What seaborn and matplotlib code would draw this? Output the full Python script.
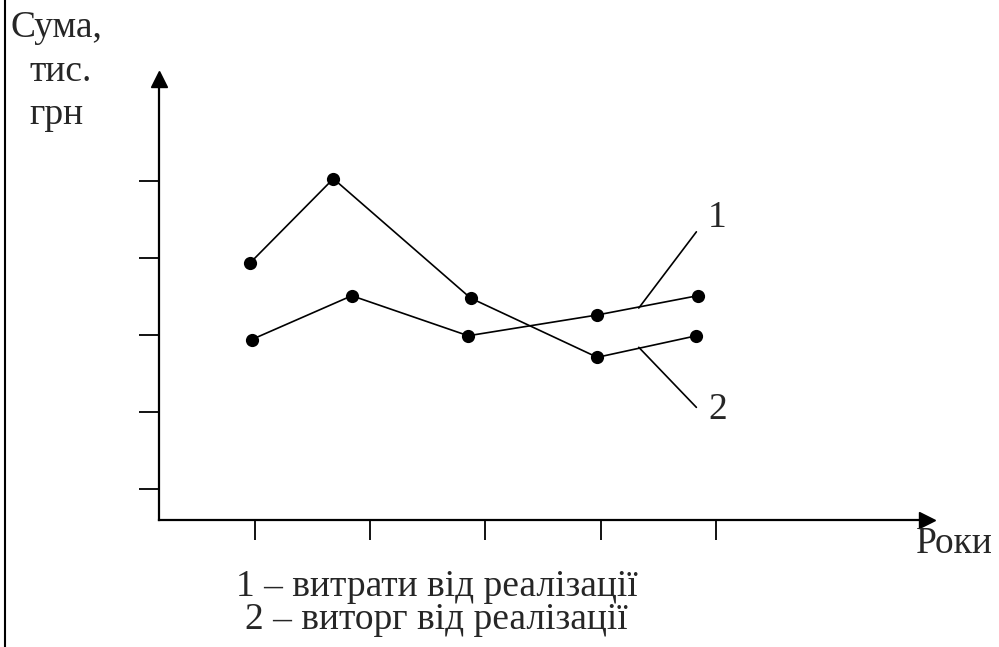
import numpy as np
import pandas as pd
import seaborn as sns
import matplotlib.pyplot as plt
from matplotlib.lines import Line2D

# values (axis units: tick spacing = 1)
years_1 = [0.97, 1.84, 2.85, 3.97, 4.84]
costs = [2.94, 3.51, 2.99, 3.26, 3.51]      # 1 - витрати від реалізації
years_2 = [0.96, 1.68, 2.87, 3.97, 4.83]
revenue = [3.94, 5.03, 3.48, 2.71, 2.99]    # 2 - виторг від реалізації
x_ticks = [1, 2, 3, 4, 5]
y_ticks = [1, 2, 3, 4, 5]

sns.set_style("white")
plt.rcParams['font.family'] = ['Liberation Serif', 'DejaVu Serif']

W, H = 999, 647
fig = plt.figure(figsize=(W / 100, H / 100), dpi=100)
# axes box: origin at (159, 520) px, x arrow tip at 927, y arrow tip at 79
ax = fig.add_axes([159 / W, 1 - 520 / H, (927 - 159) / W, (520 - 79) / H])

df = pd.concat([
    pd.DataFrame({"x": years_1, "y": costs, "s": "1"}),
    pd.DataFrame({"x": years_2, "y": revenue, "s": "2"}),
])
sns.lineplot(data=df, x="x", y="y", units="s", estimator=None, color="black",
             lw=1.2, marker="o", markersize=9.5, markeredgewidth=0, ax=ax,
             sort=False)

ax.set_xlim(0.167, 6.831)
ax.set_ylim(0.597, 6.325)
ax.set_xticks(x_ticks)
ax.set_yticks(y_ticks)
ax.set_xticklabels([])
ax.set_yticklabels([])
ax.set_xlabel("")
ax.set_ylabel("")
ax.tick_params(axis="both", direction="out", length=14.5, width=1.3, color="black",
               bottom=True, left=True)
for s in ["top", "right"]:
    ax.spines[s].set_visible(False)
for s in ["left", "bottom"]:
    ax.spines[s].set_linewidth(1.6)
    ax.spines[s].set_color("black")

# arrow heads
ax.plot(1, 0, ">", color="black", markersize=12, transform=ax.transAxes, clip_on=False)
ax.plot(0, 1, "^", color="black", markersize=12, transform=ax.transAxes, clip_on=False)

# leader lines for series labels
ax.plot([4.33, 4.83], [3.35, 4.34], color="black", lw=1.2)
ax.plot([4.33, 4.83], [2.84, 2.06], color="black", lw=1.2)
ax.text(4.93, 4.52, "1", fontsize=27, ha="left", va="center")
ax.text(4.93, 2.03, "2", fontsize=27, ha="left", va="center")

# frame line at the left edge
fig.add_artist(Line2D([5 / W, 5 / W], [0, 1], color="black", lw=1.5,
                      transform=fig.transFigure))

fig.text(11 / W, 1 - 37 / H, "Сума,", fontsize=27, ha="left", va="baseline")
fig.text(29 / W, 1 - 81 / H, "тис.", fontsize=27, ha="left", va="baseline")
fig.text(29 / W, 1 - 124 / H, "грн", fontsize=27, ha="left", va="baseline")
fig.text(916 / W, 1 - 553 / H, "Роки", fontsize=27, ha="left", va="baseline")
fig.text(437 / W, 1 - 596 / H, "1 – витрати від реалізації", fontsize=27,
         ha="center", va="baseline")
fig.text(436 / W, 1 - 629 / H, "2 – виторг від реалізації", fontsize=27,
         ha="center", va="baseline")

fig.savefig("out.png", dpi=100, facecolor="white")
